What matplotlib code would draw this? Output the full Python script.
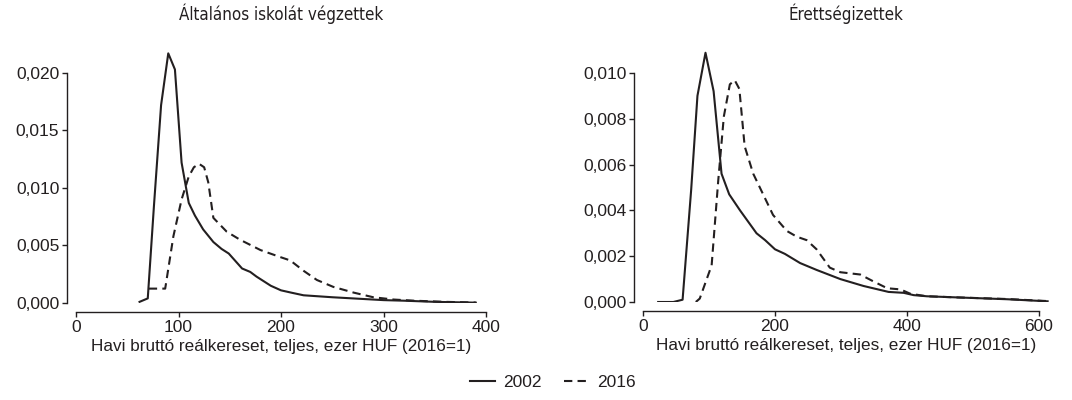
import matplotlib
matplotlib.use("Agg")
import matplotlib.pyplot as plt
from matplotlib.ticker import FuncFormatter

plt.rcParams['font.family'] = ['Liberation Sans', 'DejaVu Sans']

# Left panel: Általános iskolát végzettek
x_left_2002 = [62, 70, 76, 83, 90, 96.5, 103, 110, 116, 124, 134, 142, 149, 155,
               162, 170, 176, 183, 190, 200, 210, 222, 250, 280, 300, 320, 350, 390]
y_left_2002 = [0.0001, 0.0004, 0.0084, 0.0172, 0.0217, 0.0203, 0.0122, 0.0087,
               0.0076, 0.0064, 0.0053, 0.0047, 0.0043, 0.0037, 0.0030, 0.0027,
               0.0023, 0.0019, 0.0015, 0.0011, 0.0009, 0.00067, 0.0005, 0.00035,
               0.00025, 0.0002, 0.0001, 0.00003]
x_left_2016 = [71, 87, 95, 103, 110, 115, 120, 125, 129, 134, 147, 160, 180, 199,
               209, 222, 235, 251, 271, 290, 310, 330, 360, 390]
y_left_2016 = [0.00125, 0.00125, 0.0058, 0.0090, 0.0110, 0.0118, 0.0121, 0.0118,
               0.0105, 0.0074, 0.0062, 0.0055, 0.0046, 0.0040, 0.0037, 0.0028,
               0.0020, 0.0014, 0.0009, 0.0005, 0.0003, 0.0002, 0.0001, 0.00004]

# Right panel: Érettségizettek
x_right_2002 = [23, 46, 60, 73, 82.5, 94.7, 107, 119, 130.6, 147, 162, 172, 185,
                200, 215, 238, 263, 299, 334, 372, 395, 410, 430, 476, 552, 613]
y_right_2002 = [0.0, 0.0, 0.0001, 0.0049, 0.0090, 0.01088, 0.0092, 0.0056, 0.0047,
                0.0040, 0.0034, 0.0030, 0.0027, 0.0023, 0.0021, 0.0017, 0.0014,
                0.0010, 0.0007, 0.00044, 0.0004, 0.0003, 0.00025, 0.0002,
                0.00012, 0.00003]
x_right_2016 = [80, 86, 104, 114, 122.5, 131.6, 139, 146, 154, 167, 182, 197, 218,
                233, 248, 263, 283, 299, 329, 349, 370, 390, 405, 430, 476, 552, 613]
y_right_2016 = [0.0, 0.00015, 0.0016, 0.0053, 0.0081, 0.0095, 0.00968, 0.0093,
                0.0068, 0.0056, 0.0047, 0.0038, 0.0031, 0.00285, 0.0027, 0.0023,
                0.0015, 0.0013, 0.0012, 0.0009, 0.0006, 0.00055, 0.00036, 0.00025,
                0.0002, 0.00013, 0.00004]

titles = ['Általános iskolát végzettek', 'Érettségizettek']
xlabel = 'Havi bruttó reálkereset, teljes, ezer HUF (2016=1)'
series_labels = ['2002', '2016']

INK = '#231f20'


def comma_fmt(v, pos):
    return f'{v:.3f}'.replace('.', ',')


def style_axis(ax, xticks, yticks, xbound, ybound):
    for side in ['top', 'right']:
        ax.spines[side].set_visible(False)
    ax.spines['left'].set_position(('outward', 6.5))
    ax.spines['bottom'].set_position(('outward', 6.5))
    ax.spines['left'].set_bounds(*ybound)
    ax.spines['bottom'].set_bounds(*xbound)
    for side in ['left', 'bottom']:
        ax.spines[side].set_color(INK)
        ax.spines[side].set_linewidth(1.0)
    ax.set_xticks(xticks)
    ax.set_yticks(yticks)
    ax.yaxis.set_major_formatter(FuncFormatter(comma_fmt))
    ax.tick_params(length=3.5, width=1.0, color=INK, labelcolor=INK,
                   labelsize=12.5, pad=2)
    ax.set_xlabel(xlabel, fontsize=12.3, color=INK, labelpad=3)


fig = plt.figure(figsize=(10.72, 4.0), dpi=100)

ax1 = fig.add_axes([0.0709, 0.2425, 0.3825, 0.627])
ax1.plot(x_left_2002, y_left_2002, color=INK, lw=1.5, label=series_labels[0])
ax1.plot(x_left_2016, y_left_2016, color=INK, lw=1.5, dashes=(4, 2.5),
         label=series_labels[1])
ax1.set_xlim(0, 400)
ax1.set_ylim(0, 0.0218)
style_axis(ax1, [0, 100, 200, 300, 400], [0, 0.005, 0.010, 0.015, 0.020],
           (0, 400), (0, 0.020))

ax2 = fig.add_axes([0.5998, 0.245, 0.3787, 0.63])
ax2.plot(x_right_2002, y_right_2002, color=INK, lw=1.5)
ax2.plot(x_right_2016, y_right_2016, color=INK, lw=1.5, dashes=(4, 2.5))
ax2.set_xlim(0, 615)
ax2.set_ylim(0, 0.011)
style_axis(ax2, [0, 200, 400, 600], [0, 0.002, 0.004, 0.006, 0.008, 0.010],
           (0, 600), (0, 0.010))

# titles: condensed face, centred over each panel
for ax, t in [(ax1, titles[0]), (ax2, titles[1])]:
    pos = ax.get_position()
    fig.text((pos.x0 + pos.x1) / 2, 0.965, t, ha='center', va='center',
             fontsize=12.2, color=INK, family='DejaVu Sans',
             fontstretch='condensed')

handles, labels = ax1.get_legend_handles_labels()
fig.legend(handles, labels, loc='center', bbox_to_anchor=(0.516, 0.043),
           ncol=2, frameon=False, fontsize=12.5, handlelength=1.4,
           handletextpad=0.5, columnspacing=1.3, labelcolor=INK)

fig.savefig('out.png', dpi=100)
